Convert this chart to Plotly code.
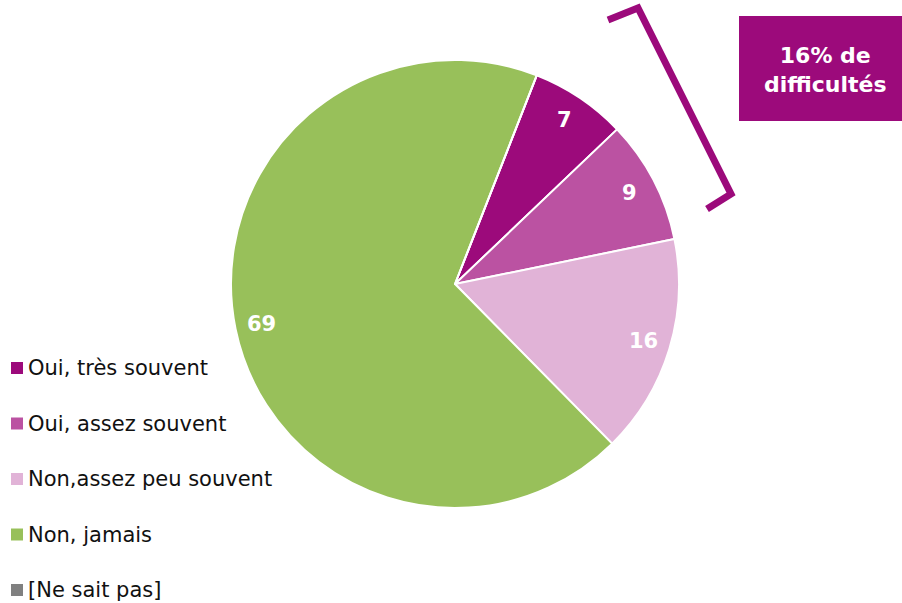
import math
import plotly.graph_objects as go

labels = ["Oui, très souvent", "Oui, assez souvent", "Non,assez peu souvent", "Non, jamais", "[Ne sait pas]"]
values = [7, 9, 16, 69, 0]
colors = ["#9C0A7B", "#BB52A2", "#E1B3D7", "#98C05A", "#808080"]
box_text = "16% de<br>difficultés"

W, H = 902, 603
FONT = "DejaVu Sans, Verdana, sans-serif"
ROT = 21.4
CX, CY, R = 455, 284, 224  # pie centre / radius in pixels (layout)

fig = go.Figure()
fig.add_trace(go.Pie(
    labels=labels,
    values=values,
    textinfo="none",
    marker=dict(colors=colors, line=dict(color="white", width=2)),
    sort=False,
    direction="clockwise",
    rotation=ROT,
    showlegend=False,
    hoverinfo="label+value",
    domain=dict(x=[(CX - R) / W, (CX + R) / W], y=[(H - CY - R) / H, (H - CY + R) / H]),
))

shapes = []
annotations = []

# slice value labels placed at mid-angle of each slice (derived from the values)
total = sum(values)
cum = 0.0
for v in values:
    if v > 0:
        mid = math.radians(ROT + (cum + v / 2) / total * 360)
        px = CX + 0.88 * R * math.sin(mid)
        py = CY - 0.88 * R * math.cos(mid)
        annotations.append(dict(text=str(v), xref="paper", yref="paper", x=px / W, y=(H - py) / H,
                                xanchor="center", yanchor="middle", showarrow=False,
                                font=dict(family=FONT, size=21, color="white", weight="bold")))
    cum += v

# manual legend
for i, (lab, col) in enumerate(zip(labels, colors)):
    yc = 368 + i * 55.5
    shapes.append(dict(type="rect", xref="paper", yref="paper",
                       x0=11 / W, x1=23 / W, y0=(H - yc - 6) / H, y1=(H - yc + 6) / H,
                       fillcolor=col, line=dict(width=0)))
    annotations.append(dict(text=lab, xref="paper", yref="paper", x=26 / W, y=(H - yc) / H,
                            xanchor="left", yanchor="middle", showarrow=False,
                            font=dict(family=FONT, size=21, color="#111111")))

# bracket
shapes.append(dict(type="path", xref="paper", yref="paper",
                   path="M %f,%f L %f,%f L %f,%f L %f,%f" % (608 / W, (H - 20) / H, 638 / W, (H - 8) / H,
                                                            731 / W, (H - 194) / H, 707 / W, (H - 209) / H),
                   line=dict(color="#9C0A7B", width=7)))
# box
shapes.append(dict(type="rect", xref="paper", yref="paper", x0=739 / W, x1=1, y0=(H - 121) / H, y1=(H - 16) / H,
                   fillcolor="#9C0A7B", line=dict(width=0)))
annotations.append(dict(text=box_text, xref="paper", yref="paper", x=825 / W, y=(H - 70) / H,
                        xanchor="center", yanchor="middle", showarrow=False, align="center",
                        font=dict(family=FONT, size=22, color="white", weight="bold")))

fig.update_layout(width=W, height=H, margin=dict(l=0, r=0, t=0, b=0),
                  paper_bgcolor="white", plot_bgcolor="white",
                  shapes=shapes, annotations=annotations)
fig.write_html("out.html", config={"displayModeBar": False},
               post_script="document.body.style.margin='0';document.body.style.overflow='hidden';")
